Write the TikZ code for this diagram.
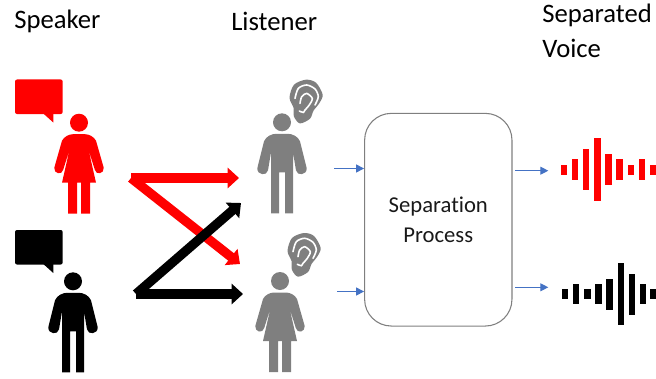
\documentclass[tikz,border=0pt]{standalone}
\usepackage{fontspec}
\setmainfont[Ligatures=NoCommon]{Carlito}
\usetikzlibrary{arrows.meta}
\definecolor{iconGray}{HTML}{7F7F7F}
\definecolor{flowBlue}{HTML}{4472C4}
\tikzset{
    x=0.75pt, y=-0.75pt,
    title/.style={anchor=west, inner sep=0pt, font=\fontsize{20}{24}\selectfont},
    process/.style={rectangle, draw=iconGray, line width=0.8pt, rounded corners=20pt, minimum width=110.5pt, minimum height=159.5pt, align=center, text=black!90, font=\fontsize{17}{22}\selectfont},
    bigarrow/.style={line width=7pt, -{Triangle[length=8.5pt, width=15pt]}},
    thinarrow/.style={flowBlue, line width=0.8pt, -{Triangle[length=6pt, width=6pt]}},
    manfig/.pic={
        \fill[pic actions] (0,0) circle (9);
        \fill[pic actions] (-11,91) -- (-11,30) -- (-14,48) .. controls (-15,54) and (-25,53) .. (-24.7,46)
            -- (-18,19) .. controls (-16,14) and (-10,11.5) .. (-6,11.5) -- (6,11.5)
            .. controls (10,11.5) and (16,14) .. (18,19) -- (24.7,46)
            .. controls (25,53) and (15,54) .. (14,48) -- (11,30) -- (11,91) -- (3,91) -- (3,50) -- (-3,50) -- (-3,91) -- cycle;
    },
    womanfig/.pic={
        \fill[pic actions] (0,0) circle (9);
        \fill[pic actions] (-11,91) -- (-11,60) -- (-17,60) -- (-9.5,27) -- (-15.8,47) .. controls (-17,53) and (-25.5,51) .. (-24.7,45)
            -- (-17,18) .. controls (-15,14) and (-10,11.5) .. (-6,11.5) -- (6,11.5)
            .. controls (10,11.5) and (15,14) .. (17,18) -- (24.7,45)
            .. controls (25.5,51) and (17,53) .. (15.8,47) -- (9.5,27) -- (17,60) -- (11,60) -- (11,91) -- (2,91) -- (2,60) -- (-2,60) -- (-2,91) -- cycle;
    },
    earfig/.pic={
        \fill[iconGray] plot[smooth cycle] coordinates {(0,-22) (10,-19) (16.7,-7) (13,2) (7.5,9) (4,17) (-6,21.7) (-12,15) (-12.5,6) (-16.5,-4) (-12,-17)};
        \draw[white, line width=1.2pt, line cap=round] plot[smooth] coordinates {(-11,-3.3) (-7.7,-13.3) (0.7,-16.7) (9,-12.7) (12.3,-5) (9,3.3)};
        \draw[white, line width=1.2pt, line cap=round] plot[smooth] coordinates {(-6,1.7) (-4.3,-5) (0.7,-8.3) (6.3,-3.3) (3.3,3.3) (-1,8.3) (-2.7,10.7) (-6.7,9.3)};
    },
    bubblefig/.pic={
        \fill[pic actions, rounded corners=1.5pt] (15,0) rectangle (62.7,34.5);
        \fill[pic actions] (43.3,34) -- (53.3,43) -- (53.3,34) -- cycle;
    }
}
\begin{document}
\begin{tikzpicture}
    \useasboundingbox (0,0) rectangle (656,378);

    \node[title] (speaker) at (14,21) {Speaker};
    \node[title] (listener) at (231,21) {Listener};
    \node[title] (separated) at (542,15) {Separated};
    \node[title] (voice) at (542,48) {Voice};

    \pic[fill=red] at (0,79.5) {bubblefig};
    \pic[fill=black] at (0,230) {bubblefig};
    \pic[fill=red] at (79,122.7) {womanfig};
    \pic[fill=black] at (73,281.3) {manfig};
    \pic[fill=iconGray] at (282,122.3) {manfig};
    \pic[fill=iconGray] at (280,281) {womanfig};
    \pic at (306,101.7) {earfig};
    \pic at (304,255) {earfig};

    \coordinate (redstart) at (131,178);
    \coordinate (redtop) at (239,178);
    \coordinate (redlow) at (240,264);
    \coordinate (blackstart) at (136,294);
    \coordinate (blacktop) at (241,203);
    \coordinate (blacklow) at (243,294);
    \draw[bigarrow, red] (redstart) -- (redtop);
    \draw[bigarrow, red] (redstart) -- (redlow);
    \draw[bigarrow, black] (blackstart) -- (blacktop);
    \draw[bigarrow, black] (blackstart) -- (blacklow);

    \node[process] (proc) at (438.3,219.7) {Separation\\Process};

    \coordinate (in1) at (334,168.5);
    \coordinate (in2) at (337,291.5);
    \coordinate (out1) at (515,170.7);
    \coordinate (out2) at (515,287.3);
    \coordinate (wave1) at (548.3,170.7);
    \coordinate (wave2) at (548.3,287.3);
    \draw[thinarrow] (in1) -- (in1 -| proc.west);
    \draw[thinarrow] (in2) -- (in2 -| proc.west);
    \draw[thinarrow] (out1) -- (wave1);
    \draw[thinarrow] (out2) -- (wave2);

    \foreach \xpos/\barh in {564/10, 575/20.7, 586/41, 597.3/62.7, 608.3/31, 619.3/20.7, 630.7/10, 641.7/20.7, 652.7/10}
        \fill[red] (\xpos-3.2,169.5-\barh/2) rectangle (\xpos+3.2,169.5+\barh/2);
    \foreach \xpos/\barh in {565/10, 576/20, 587.3/10, 598.3/20, 609.3/31, 620.7/62, 631.7/41, 642.7/20, 652.7/10}
        \fill[black] (\xpos-3.2,294.3-\barh/2) rectangle (\xpos+3.2,294.3+\barh/2);
\end{tikzpicture}
\end{document}
